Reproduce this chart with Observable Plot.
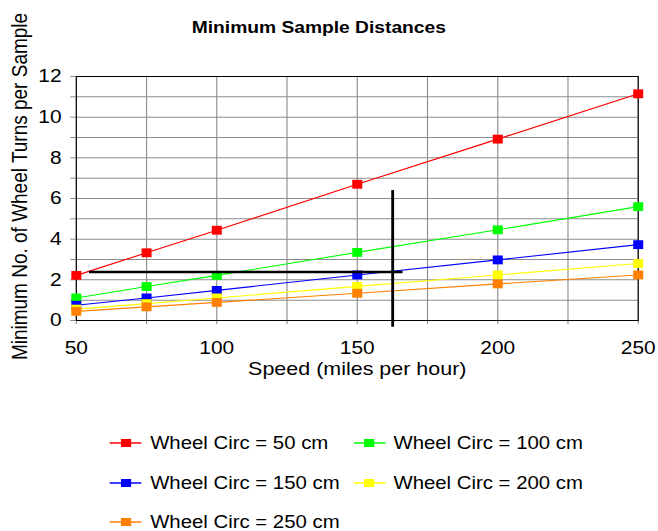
<!DOCTYPE html>
<html>
<head>
<meta charset="utf-8">
<script src="https://cdn.jsdelivr.net/npm/d3@7"></script>
<script src="https://cdn.jsdelivr.net/npm/@observablehq/plot@0.6"></script>
<style>
  html, body { margin: 0; padding: 0; background: #fff; overflow: hidden; }
  #wrap { position: relative; width: 582px; height: 531px; transform: scaleX(1.1306); transform-origin: 0 0; font-family: "Liberation Sans", Arial, sans-serif; }
  #chart { position: absolute; left: 0; top: 0; }
  #title { position: absolute; left: 0; width: 564px; top: 17px; text-align: center; font-weight: bold; font-size: 17px; line-height: 22px; z-index: 2; }
  .leg { position: absolute; font-size: 18px; line-height: 22px; white-space: nowrap; display: flex; align-items: center; }
  .sw { position: relative; width: 28px; height: 22px; margin-right: 7.5px; }
  .sw .ln { position: absolute; left: 0; right: 0; top: 10px; height: 2px; opacity: 0.75; }
  .sw .mk { position: absolute; left: 9.5px; top: 7px; width: 9px; height: 8px; }
</style>
</head>
<body>
<div id="wrap">
  <div id="chart"></div>
  <div id="title"></div>
  <div id="legend"></div>
</div>
<script>
// ---- data ----
const titleText = "Minimum Sample Distances";
const xLabel = "Speed (miles per hour)";
const yLabel = "Minimum No. of Wheel Turns per Sample";
const speeds = [50, 75, 100, 150, 200, 250];
const circ50 = [2.22, 3.33, 4.44, 6.70, 8.92, 11.15];
const circ100 = [1.11, 1.67, 2.22, 3.35, 4.46, 5.60];
const circ150 = [0.75, 1.11, 1.48, 2.24, 2.98, 3.73];
const circ200 = [0.56, 0.83, 1.11, 1.68, 2.24, 2.80];
const circ250 = [0.45, 0.67, 0.89, 1.34, 1.80, 2.24];
const seriesNames = ["Wheel Circ = 50 cm", "Wheel Circ = 100 cm", "Wheel Circ = 150 cm", "Wheel Circ = 200 cm", "Wheel Circ = 250 cm"];
const seriesColors = ["#ff0000", "#00ff00", "#0000ff", "#ffff00", "#ff8000"];
const xTicks = [50, 75, 100, 125, 150, 175, 200, 225, 250];
const yTicks = [0, 1, 2, 3, 4, 5, 6, 7, 8, 9, 10, 11, 12];
// reference cross-hair lines
const hLineY = [2.38];
const hLineX1 = [54.7];
const hLineX2 = [166.3];
const vLineX = [162.6];
const vLineY1 = [-0.33];
const vLineY2 = [6.39];

const seriesValues = [circ50, circ100, circ150, circ200, circ250];
const rows = seriesNames.flatMap((name, i) => speeds.map((s, j) => ({series: name, speed: s, turns: seriesValues[i][j]})));
const hRows = hLineY.map((y, i) => ({y, x1: hLineX1[i], x2: hLineX2[i]}));
const vRows = vLineX.map((x, i) => ({x, y1: vLineY1[i], y2: vLineY2[i]}));

const grid = "#8c8c8c";
const chart = Plot.plot({
  width: 582,
  height: 395,
  marginLeft: 67,
  marginRight: 18,
  marginTop: 76,
  marginBottom: 75,
  style: {fontFamily: "'Liberation Sans', Arial, sans-serif", fontSize: "18.5px", color: "#000", background: "transparent", overflow: "visible"},
  x: {domain: [50, 250]},
  y: {domain: [0, 12]},
  color: {domain: seriesNames, range: seriesColors},
  marks: [
    Plot.ruleX(xTicks, {stroke: grid}),
    Plot.ruleY(yTicks, {stroke: grid}),
    Plot.axisX(xTicks, {tickSize: 4, tickPadding: 16, stroke: grid, fill: "#000", tickFormat: d => d % 50 === 0 ? String(d) : "", label: null}),
    Plot.axisY(yTicks, {tickSize: 5, tickPadding: 8, stroke: grid, fill: "#000", tickFormat: d => d % 2 === 0 ? String(d) : "", label: null}),
    Plot.frame({stroke: "#000"}),
    Plot.line(rows, {x: "speed", y: "turns", z: "series", stroke: "series", strokeWidth: 1.1}),
    Plot.dot(rows, {x: "speed", y: "turns", fill: "series", symbol: "square", r: 5}),
    Plot.ruleY(hRows, {y: "y", x1: "x1", x2: "x2", stroke: "#000", strokeWidth: 2.5}),
    Plot.ruleX(vRows, {x: "x", y1: "y1", y2: "y2", stroke: "#000", strokeWidth: 2.5}),
    Plot.text([yLabel], {frameAnchor: "left", textAnchor: "middle", lineAnchor: "middle", rotate: -90, dx: -49.5, dy: -12, fontSize: 19, fill: "#000"}),
    Plot.text([xLabel], {frameAnchor: "bottom", lineAnchor: "middle", dy: 48, fontSize: 19, fill: "#000"})
  ]
});
document.getElementById("chart").appendChild(chart);
document.getElementById("title").textContent = titleText;

// legend (HTML, below the plot area)
const legendPos = [
  {left: 97.3, top: 431.5},
  {left: 312.5, top: 431.5},
  {left: 97.3, top: 471.5},
  {left: 312.5, top: 471.5},
  {left: 97.3, top: 510.5}
];
const legend = document.getElementById("legend");
seriesNames.forEach((name, i) => {
  const item = document.createElement("div");
  item.className = "leg";
  item.style.left = legendPos[i].left + "px";
  item.style.top = legendPos[i].top + "px";
  const sw = document.createElement("div");
  sw.className = "sw";
  const ln = document.createElement("div");
  ln.className = "ln";
  ln.style.background = seriesColors[i];
  const mk = document.createElement("div");
  mk.className = "mk";
  mk.style.background = seriesColors[i];
  sw.appendChild(ln);
  sw.appendChild(mk);
  const tx = document.createElement("span");
  tx.textContent = name;
  item.appendChild(sw);
  item.appendChild(tx);
  legend.appendChild(item);
});
</script>
</body>
</html>
